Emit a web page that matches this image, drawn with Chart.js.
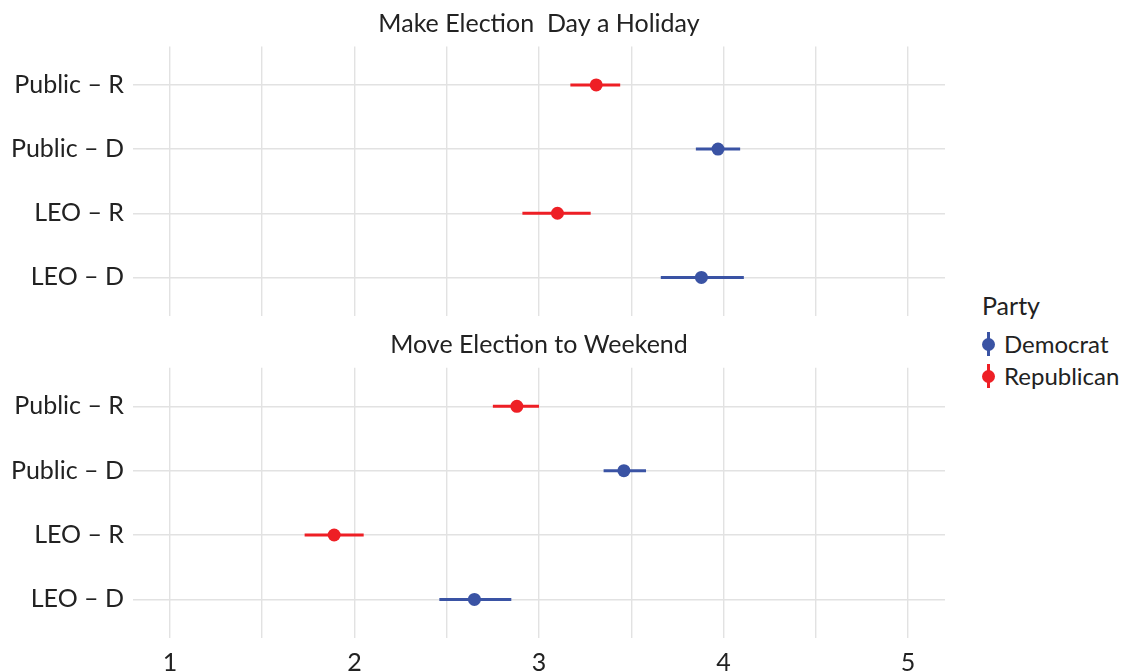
<!DOCTYPE html>
<html>
<head>
<meta charset="utf-8">
<script src="https://cdn.jsdelivr.net/npm/chart.js@4.4.1/dist/chart.umd.min.js"></script>
<style>
  html, body { margin: 0; padding: 0; background: #ffffff; }
  body { width: 1126px; height: 672px; position: relative; overflow: hidden; font-family: Lato, "Open Sans", sans-serif; color: #222; }
  canvas { position: absolute; left: 0; }
  #panel1 { top: 0; }
  #panel2 { top: 320px; }
  #legend { position: absolute; left: 982px; top: 290px; }
  #legend .ttl { font-size: 25px; line-height: 30px; margin-bottom: 8px; }
  #legend .item { position: relative; height: 32px; line-height: 32px; font-size: 24px; padding-left: 22px; white-space: nowrap; }
  #legend .bar { position: absolute; left: 5px; top: 4px; width: 3px; height: 24px; }
  #legend .dot { position: absolute; left: 0px; top: 10px; width: 13px; height: 13px; border-radius: 50%; }
</style>
</head>
<body>
<canvas id="panel1" width="960" height="320"></canvas>
<canvas id="panel2" width="960" height="352"></canvas>
<div id="legend"></div>
<script>
// Rows, top to bottom
const rows = ["Public – R", "Public – D", "LEO – R", "LEO – D"];
const rowParty = ["Republican", "Democrat", "Republican", "Democrat"];

// "Make Election  Day a Holiday": mean support with interval bounds
const holidayEst  = [3.31, 3.97, 3.10, 3.88];
const holidayLow  = [3.17, 3.85, 2.91, 3.66];
const holidayHigh = [3.44, 4.09, 3.28, 4.11];

// "Move Election to Weekend"
const weekendEst  = [2.88, 3.46, 1.89, 2.65];
const weekendLow  = [2.75, 3.35, 1.73, 2.46];
const weekendHigh = [3.00, 3.58, 2.05, 2.85];

// x-axis grid positions (labels on whole numbers only)
const xTicks = [1, 1.5, 2, 2.5, 3, 3.5, 4, 4.5, 5];
const parties = ["Democrat", "Republican"];
const partyColors = { Democrat: "#3A53A4", Republican: "#EE1F25" };

const FONT = "Lato";
const TEXT = "#222222";
const GRID = "#E2E2E2";

function makePanel(id, title, est, low, high, showX, titlePad, xHeight) {
  const datasets = [];
  // interval segments
  rows.forEach((r, i) => {
    const c = partyColors[rowParty[i]];
    datasets.push({
      data: [{ x: low[i], y: i }, { x: high[i], y: i }],
      showLine: true,
      borderColor: c,
      borderWidth: 3,
      pointRadius: 0,
      order: 2
    });
  });
  // point estimates, one dataset per party
  parties.forEach(p => {
    const pts = [];
    rows.forEach((r, i) => { if (rowParty[i] === p) pts.push({ x: est[i], y: i }); });
    datasets.push({
      label: p,
      data: pts,
      backgroundColor: partyColors[p],
      borderColor: partyColors[p],
      borderWidth: 0,
      pointRadius: 6.5,
      order: 1
    });
  });

  return new Chart(document.getElementById(id), {
    type: "scatter",
    data: { datasets },
    options: {
      responsive: false,
      animation: false,
      devicePixelRatio: 1,
      layout: { autoPadding: false, padding: { left: 0, right: 15, top: 0, bottom: 0 } },
      plugins: {
        legend: { display: false },
        tooltip: { enabled: false },
        title: {
          display: true,
          text: title,
          fullSize: false,
          color: TEXT,
          font: { family: FONT, size: 25, weight: "normal" },
          padding: titlePad
        }
      },
      scales: {
        x: {
          type: "linear",
          min: 0.8,
          max: 5.2,
          afterBuildTicks: s => { s.ticks = xTicks.map(v => ({ value: v })); },
          afterFit: s => { s.height = xHeight; },
          border: { display: false },
          grid: { color: GRID, lineWidth: 1.4, drawTicks: false },
          ticks: {
            display: showX,
            autoSkip: false,
            maxRotation: 0,
            padding: 10,
            color: TEXT,
            font: { family: FONT, size: 25 },
            callback: v => Number.isInteger(v) ? String(v) : ""
          }
        },
        y: {
          type: "linear",
          reverse: true,
          min: -0.6,
          max: rows.length - 1 + 0.6,
          afterBuildTicks: s => { s.ticks = rows.map((r, i) => ({ value: i })); },
          afterFit: s => { s.width = 133; s.paddingTop = 0; s.paddingBottom = 0; },
          border: { display: false },
          grid: { color: GRID, lineWidth: 1.4, drawTicks: false },
          ticks: {
            autoSkip: false,
            padding: 9,
            color: TEXT,
            font: { family: FONT, size: 25 },
            callback: v => rows[v]
          }
        }
      }
    }
  });
}

makePanel("panel1", "Make Election  Day a Holiday", holidayEst, holidayLow, holidayHigh, false, { top: 9, bottom: 7.4 }, 4.1);
makePanel("panel2", "Move Election to Weekend", weekendEst, weekendLow, weekendHigh, true, { top: 10, bottom: 7.7 }, 34);

// legend
const legend = document.getElementById("legend");
const ttl = document.createElement("div");
ttl.className = "ttl";
ttl.textContent = "Party";
legend.appendChild(ttl);
parties.forEach(p => {
  const item = document.createElement("div");
  item.className = "item";
  const bar = document.createElement("span");
  bar.className = "bar";
  bar.style.background = partyColors[p];
  const dot = document.createElement("span");
  dot.className = "dot";
  dot.style.background = partyColors[p];
  item.appendChild(bar);
  item.appendChild(dot);
  item.appendChild(document.createTextNode(p));
  legend.appendChild(item);
});
</script>
</body>
</html>
